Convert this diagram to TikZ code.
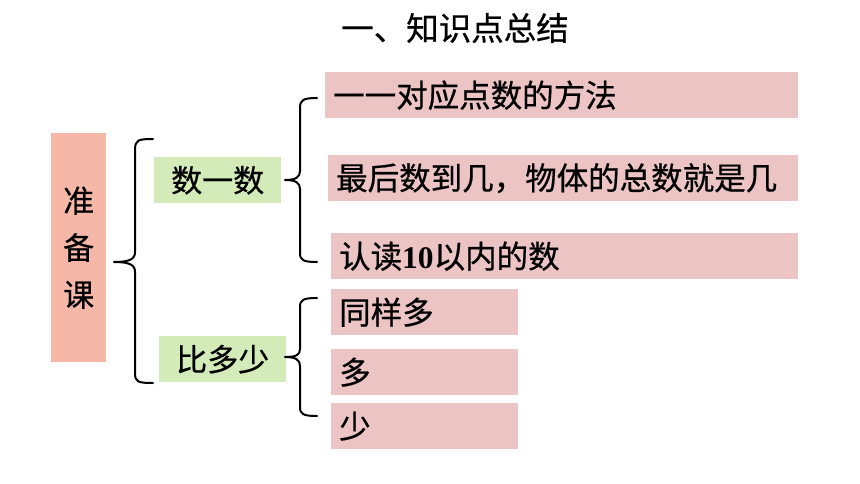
\documentclass[tikz,border=0pt]{standalone}
\usepackage{fontspec}
\newfontfamily\cjk[FakeBold=0.6]{Noto Sans CJK SC}
\newfontfamily\numf{Liberation Serif}
\definecolor{pinkc}{RGB}{236,196,196}
\definecolor{greenc}{RGB}{211,235,185}
\definecolor{salmonc}{RGB}{245,183,168}
\tikzset{
  leafbox/.style={fill=pinkc, inner xsep=8pt, inner ysep=0pt, minimum height=46pt, align=left,
    font=\cjk\fontsize{31.5}{36}\selectfont, anchor=north west},
  midbox/.style={fill=greenc, inner sep=0pt, minimum width=127pt, minimum height=46pt,
    font=\cjk\fontsize{31}{36}\selectfont, anchor=north west},
  bracel/.style={line width=2pt, line cap=round, line join=round}
}
\begin{document}
\begin{tikzpicture}[x=1pt,y=-1pt]
\useasboundingbox (0,0) rectangle (860,484);
\node[font=\cjk\fontsize{32.5}{36}\selectfont] (title) at (455,28) {一、知识点总结};
\node[fill=salmonc, minimum width=55pt, minimum height=229pt, inner sep=0pt, anchor=north west,
  align=center, font=\cjk\fontsize{31}{47}\selectfont] (root) at (51,133) {准\\备\\课};
\node[midbox] (g1) at (154,157) {数一数};
\node[midbox] (g2) at (159,336) {比多少};
\node[leafbox, text width=457pt] (b1) at (325,72) {一一对应点数的方法};
\node[leafbox, text width=454pt] (b2) at (328,155) {最后数到几，物体的总数就是几};
\node[leafbox, text width=451pt] (b3) at (331,233) {认读{\numf\bfseries 10}以内的数};
\node[leafbox, text width=171pt] (b4) at (331,289) {同样多};
\node[leafbox, text width=171pt] (b5) at (331,349) {多};
\node[leafbox, text width=171pt] (b6) at (331,403) {少};
% brace 1
\draw[bracel] (153,139) .. controls (138,139) and (135,140) .. (135,150) -- (135,252)
  .. controls (135,259) and (130,262) .. (114,262)
  .. controls (130,262) and (135,265) .. (135,272) -- (135,373)
  .. controls (135,382) and (138,383) .. (153,383);
% brace 2
\draw[bracel] (317,98) .. controls (303,98) and (300,100) .. (300,108) -- (300,171)
  .. controls (300,177) and (296,180) .. (285,180)
  .. controls (296,180) and (300,183) .. (300,189) -- (300,253)
  .. controls (300,260) and (303,262) .. (317,262);
% brace 3
\draw[bracel] (317,298) .. controls (303,298) and (300,300) .. (300,307) -- (300,349)
  .. controls (300,355) and (296,357) .. (285,357)
  .. controls (296,357) and (300,360) .. (300,366) -- (300,407)
  .. controls (300,414) and (303,416) .. (317,416);
\end{tikzpicture}
\end{document}
